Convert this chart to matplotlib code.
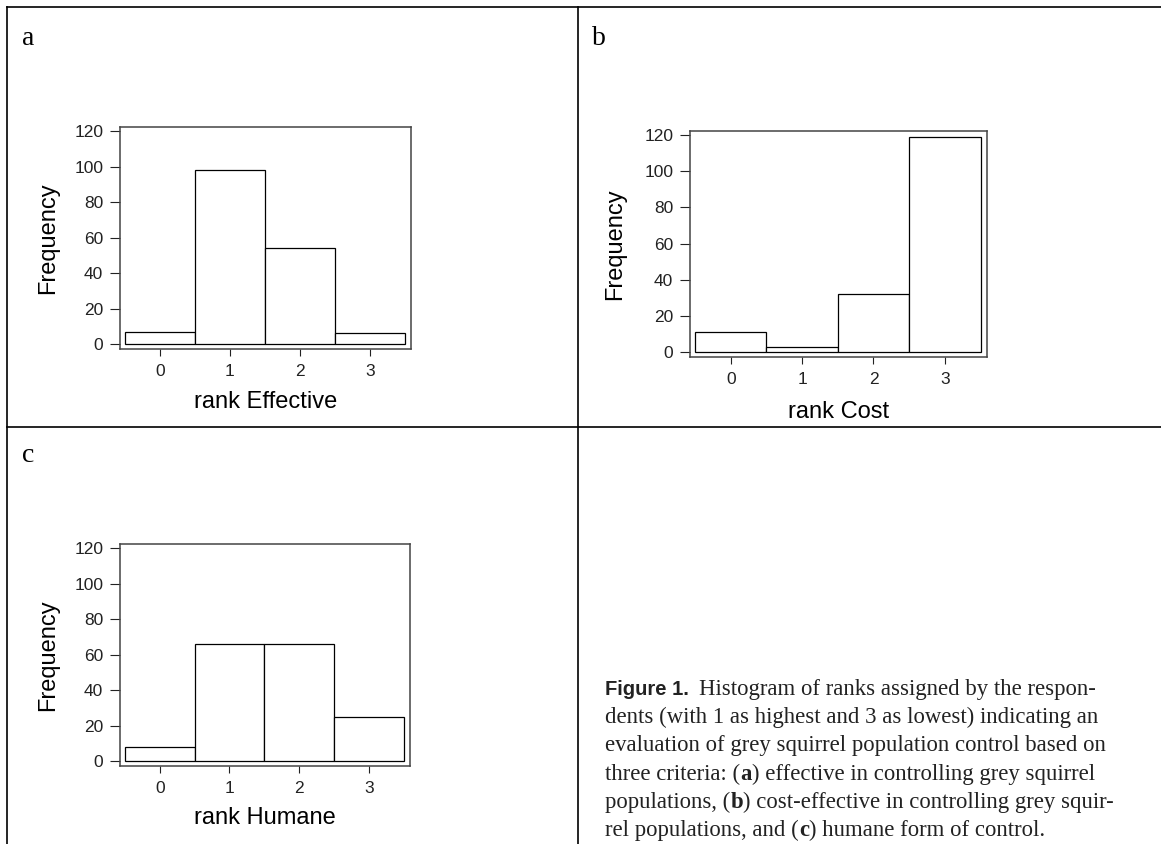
import matplotlib
matplotlib.use("Agg")
import matplotlib.pyplot as plt
from matplotlib.lines import Line2D
from matplotlib.transforms import IdentityTransform

# datos
ranks = [0, 1, 2, 3]
effective = [7, 98, 54, 6]
cost = [11, 3, 32, 119]
humane = [8, 66, 66, 25]

panel_letters = ["a", "b", "c"]
xlabels = ["rank Effective", "rank Cost", "rank Humane"]
yticks = [0, 20, 40, 60, 80, 100, 120]

W, H = 1161, 844
fig = plt.figure(figsize=(W / 100, H / 100), dpi=100)

def fx(px):
    return px / W

def fy(py):
    return 1 - py / H

# marco de la figura
lw_frame = 1.2
for xs, ys in [((7, W), (6.5, 6.5)), ((7, 7), (6.5, H)), ((578, 578), (6.5, H)),
               ((7, W), (427, 427))]:
    fig.add_artist(Line2D([fx(x) for x in xs], [fy(y) for y in ys],
                          color="black", lw=lw_frame, transform=fig.transFigure))

# posiciones de los ejes en pixeles: izq, arriba, der, abajo
boxes = [(120, 127, 411, 349), (690, 131, 987, 357), (120, 544, 410, 766)]
letter_pos = [(22, 45), (592, 45), (22, 462)]
ylab_x = [48, 615, 48]
xlab_y = [402, 412, 818]
datos = [effective, cost, humane]

for i in range(3):
    l, t, r, b = boxes[i]
    ax = fig.add_axes([fx(l), fy(b), fx(r) - fx(l), (b - t) / H])
    ax.bar(ranks, datos[i], width=1.0, color="white", edgecolor="black", linewidth=0.9)
    ax.set_xlim(-0.57, 3.59)
    ax.set_ylim(-2.8, 122.3)
    ax.set_xticks(ranks)
    ax.set_yticks(yticks)
    ax.tick_params(axis="y", length=7, width=0.8, pad=5, labelsize=12.5, colors="#222222")
    ax.tick_params(axis="x", length=5, width=0.8, pad=6, labelsize=12.5, colors="#222222")
    for lab in ax.get_xticklabels() + ax.get_yticklabels():
        lab.set_fontfamily("Liberation Sans")
    for s in ax.spines.values():
        s.set_color("#444444")
        s.set_linewidth(1.1)
    fig.text(fx(ylab_x[i]), fy((t + b) / 2), "Frequency", rotation=90,
             ha="center", va="center", fontsize=17, family="Liberation Sans")
    fig.text(fx((l + r) / 2), fy(xlab_y[i]), xlabels[i], ha="center", va="center",
             fontsize=17, family="Liberation Sans")
    fig.text(fx(letter_pos[i][0]), fy(letter_pos[i][1]), panel_letters[i],
             ha="left", va="baseline", fontsize=20, family="Liberation Serif")

# pie de figura, linea por linea
renderer = fig.canvas.get_renderer()
serif = dict(family="Liberation Serif", fontsize=16.4)
serif_b = dict(family="Liberation Serif", fontsize=16.4, weight="bold")
sans_b = dict(family="Liberation Sans", fontsize=14.5, weight="bold")

caption = [
    [("Figure 1.", sans_b), ("Histogram of ranks assigned by the respon-", serif)],
    [("dents (with 1 as highest and 3 as lowest) indicating an", serif)],
    [("evaluation of grey squirrel population control based on", serif)],
    [("three criteria: (", serif), ("a", serif_b), (") effective in controlling grey squirrel", serif)],
    [("populations, (", serif), ("b", serif_b), (") cost-effective in controlling grey squir-", serif)],
    [("rel populations, and (", serif), ("c", serif_b), (") humane form of control.", serif)],
]
y0 = H - 695
for k, line in enumerate(caption):
    x = 605
    y = y0 - k * 28.2
    for j, (txt, kw) in enumerate(line):
        tt = fig.text(x, y, txt, transform=IdentityTransform(), ha="left", va="baseline",
                      color="#222222", **kw)
        x += tt.get_window_extent(renderer).width
        if txt == "Figure 1.":
            x = 699

fig.savefig("out.png", dpi=100)
